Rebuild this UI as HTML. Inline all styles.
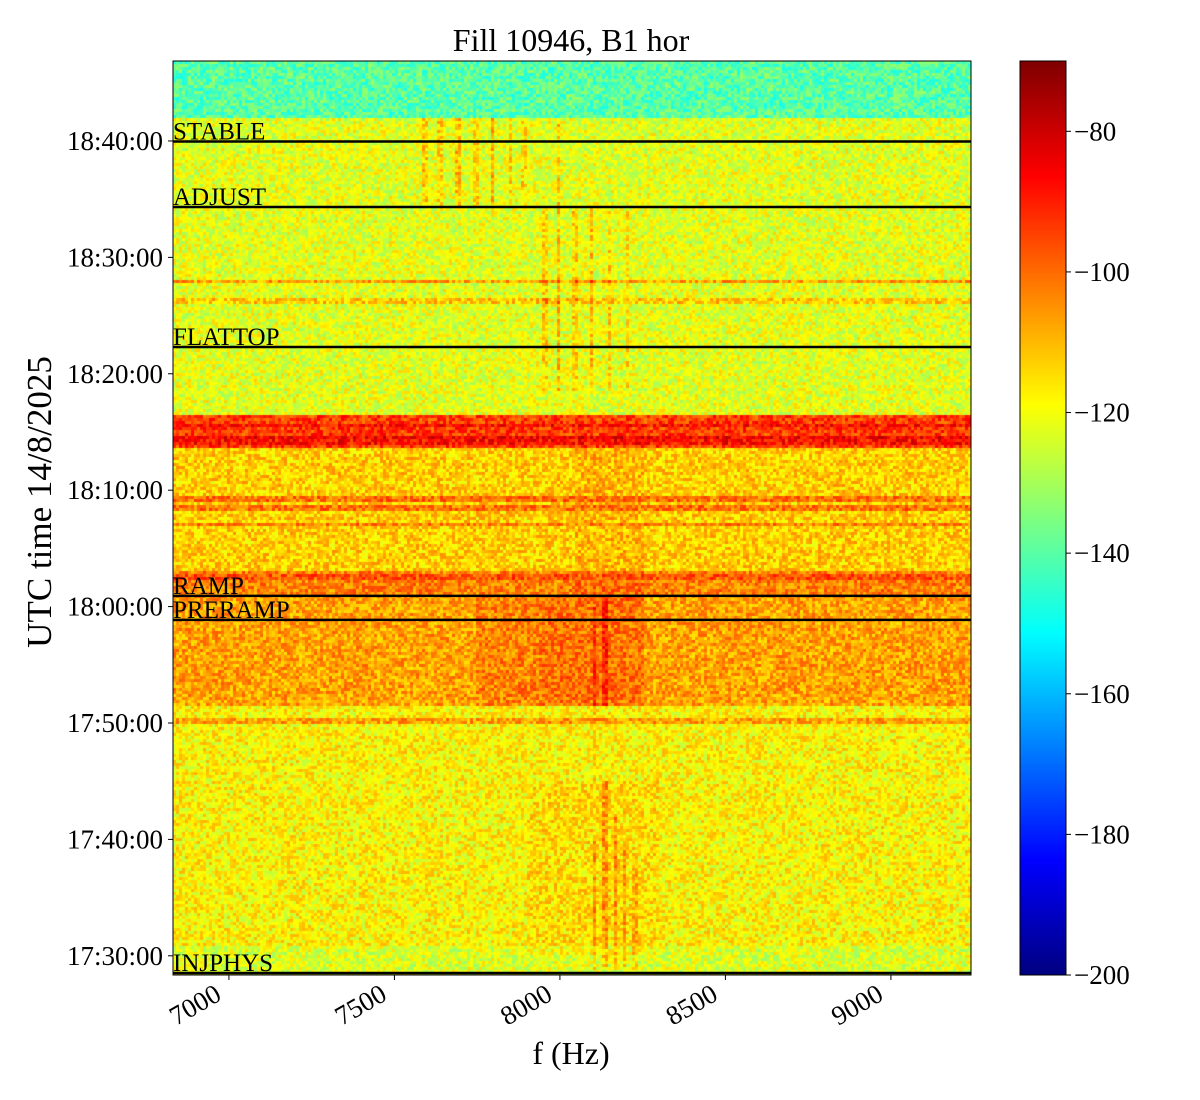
<!DOCTYPE html>
<html><head><meta charset="utf-8"><style>
html,body{margin:0;padding:0;background:#fff;}
#wrap{position:relative;width:1200px;height:1100px;overflow:hidden;font-family:"Liberation Serif",serif;}
canvas{position:absolute;}
svg{position:absolute;left:0;top:0;}
</style></head><body>
<div id="wrap">
<canvas id="hm" width="798" height="914" style="left:173px;top:61px"></canvas>
<canvas id="cb" width="46" height="914" style="left:1020px;top:61px"></canvas>
<svg id="ov" width="1200" height="1100"></svg>
</div>
<script>
// ---- data (frequency in Hz, time in minutes after 17:00, level in dB) ----
const xTicks = [7000, 7500, 8000, 8500, 9000];
const yTicks = [30, 40, 50, 60, 70, 80, 90, 100];
const yTickLabels = ["17:30:00","17:40:00","17:50:00","18:00:00","18:10:00","18:20:00","18:30:00","18:40:00"];
const cbTicks = [-80, -100, -120, -140, -160, -180, -200];
const bandStart = [101.98, 76.46, 73.71, 63.14, 61.0, 51.55, 30.93];
const bandEnd   = [106.9, 101.98, 76.46, 73.71, 63.14, 61.0, 51.55];
const bandLevel = [-140, -122, -94, -113, -103, -107, -118];
const bottomBandLevel = -123;
const hLineTime = [74.57, 75.6, 69.3, 68.5, 67.0, 87.97, 62.5, 50.1, 74.1, 86.2];
const hLineLevel = [-85, -88, -101, -101, -103, -107, -97, -107, -88, -112];
const vFreq  = [7592,7637,7692,7746,7795,7849,7891,7994, 7955,7994,8045,8097,8151,8202, 8106,8136,8166,8196,8227, 8136,8106];
const vStart = [94.3,94.3,94.3,94.3,94.3,94.3,94.3,94.3, 78.6,78.6,78.6,78.6,78.6,78.6, 28.8,28.8,28.8,28.8,28.8, 51.5,45];
const vEnd   = [102,102,102,102,102,102,102,102, 94.3,94.3,94.3,94.3,94.3,94.3, 40,45,42,40,38, 61,60];
const vBoost = [9,8,11,8,12,7,7,9, 8,11,8,11,8,7, 10,9,10,8,7, 10,7];
const boxF0 = [7950, 7750, 8050, 7900];
const boxF1 = [8250, 7950, 8250, 8300];
const boxT0 = [51.5, 51.5, 61.0, 30.0];
const boxT1 = [61.0, 61.0, 73.7, 45.0];
const boxBoost = [6, 4, 3, 3];
const phaseNames = ["STABLE","ADJUST","FLATTOP","RAMP","PRERAMP","INJPHYS"];
const phaseTimes = [99.95, 94.33, 82.3, 60.92, 58.86, 28.52];

// ---- axes ----
const X0=173,X1=971,Y0=61,Y1=975, F0=6831,F1=9242, T0=28.35,T1=106.87;
const xs = f => X0 + (f-F0)/(F1-F0)*(X1-X0);
const ys = t => Y1 - (t-T0)/(T1-T0)*(Y1-Y0);
const cy = v => Y1 - (v+200)/130*(Y1-Y0);
function jet(v){
  const c = x => Math.max(0,Math.min(1,x));
  const r=c(1.5-Math.abs(4*v-3)), g=c(1.5-Math.abs(4*v-2)), b=c(1.5-Math.abs(4*v-1));
  return `rgb(${r*255|0},${g*255|0},${b*255|0})`;
}
function hash(i,j){let h=(i*374761393+j*668265263)|0;h=(h^(h>>>13))*1274126177|0;return ((h^(h>>>16))>>>0)/4294967296;}
function level(f,t){
  let L=bottomBandLevel;
  for(let k=0;k<bandStart.length;k++) if(t>=bandStart[k]&&t<bandEnd[k]) L=bandLevel[k];
  for(let k=0;k<boxF0.length;k++) if(f>=boxF0[k]&&f<boxF1[k]&&t>=boxT0[k]&&t<boxT1[k]) L+=boxBoost[k];
  for(let k=0;k<hLineTime.length;k++) if(Math.abs(t-hLineTime[k])<0.2) L=Math.max(L,hLineLevel[k]);
  for(let k=0;k<vFreq.length;k++) if(Math.abs(f-vFreq[k])<6&&t>=vStart[k]&&t<vEnd[k]) L+=vBoost[k];
  return L;
}
const hm=document.getElementById('hm').getContext('2d');
const CW=3,CH=3;
for(let j=0;j*CH<914;j++){
  for(let i=0;i*CW<798;i++){
    const f=F0+(i*CW+1.5)/798*(F1-F0), t=T1-(j*CH+1.5)/914*(T1-T0);
    const v=level(f,t)+(hash(i,j)-0.5)*18;
    hm.fillStyle=jet((v+200)/130);
    hm.fillRect(i*CW,j*CH,CW,CH);
  }
}
const cb=document.getElementById('cb').getContext('2d');
for(let y=0;y<914;y++){cb.fillStyle=jet(1-y/914);cb.fillRect(0,y,46,1);}

const ov=document.getElementById('ov'), NS='http://www.w3.org/2000/svg';
function el(tag,attrs,txt){const e=document.createElementNS(NS,tag);for(const k in attrs)e.setAttribute(k,attrs[k]);if(txt!=null)e.textContent=txt;ov.appendChild(e);return e;}
let e;
e=el('rect',{x:X0,y:Y0,width:X1-X0,height:Y1-Y0,fill:'none',stroke:'#000','stroke-width':1});


e=el('rect',{x:1020,y:Y0,width:46,height:Y1-Y0,fill:'none',stroke:'#000','stroke-width':1});


phaseNames.forEach((n,k)=>{
  const y=ys(phaseTimes[k]);
  e=el('line',{x1:X0,x2:X1,y1:y,y2:y,stroke:'#000','stroke-width':2.5});
  
  
  e=el('text',{x:X0,y:y-2,'font-size':25,'font-family':'Liberation Serif,serif'},n);
  
  
});
xTicks.forEach(f=>{
  const x=xs(f);
  e=el('line',{x1:x,x2:x,y1:Y1,y2:Y1+5,stroke:'#000'});
  
  
  const lx=x-6, ly=Y1+24;
  e=el('text',{x:lx,y:ly,'font-size':27,'text-anchor':'end',transform:`rotate(-30 ${lx} ${ly})`},String(f));
  
  
});
yTicks.forEach((t,k)=>{
  const y=ys(t);
  e=el('line',{x1:X0-5,x2:X0,y1:y,y2:y,stroke:'#000'});
  
  
  e=el('text',{x:X0-10,y:y+9,'font-size':27,'text-anchor':'end'},yTickLabels[k]);
  
  
});
cbTicks.forEach(v=>{
  const y=cy(v);
  e=el('line',{x1:1066,x2:1071,y1:y,y2:y,stroke:'#000'});
  
  
  e=el('text',{x:1074,y:y+9,'font-size':27},'\u2212'+Math.abs(v));
  
  
});
e=el('text',{x:571,y:51,'font-size':32,'text-anchor':'middle'},'Fill 10946, B1 hor');


e=el('text',{x:571,y:1064,'font-size':32,'text-anchor':'middle'},'f (Hz)');


e=el('text',{x:51,y:502,'font-size':35,'text-anchor':'middle',transform:'rotate(-90 51 502)'},'UTC time 14/8/2025');


</script>
</body></html>
